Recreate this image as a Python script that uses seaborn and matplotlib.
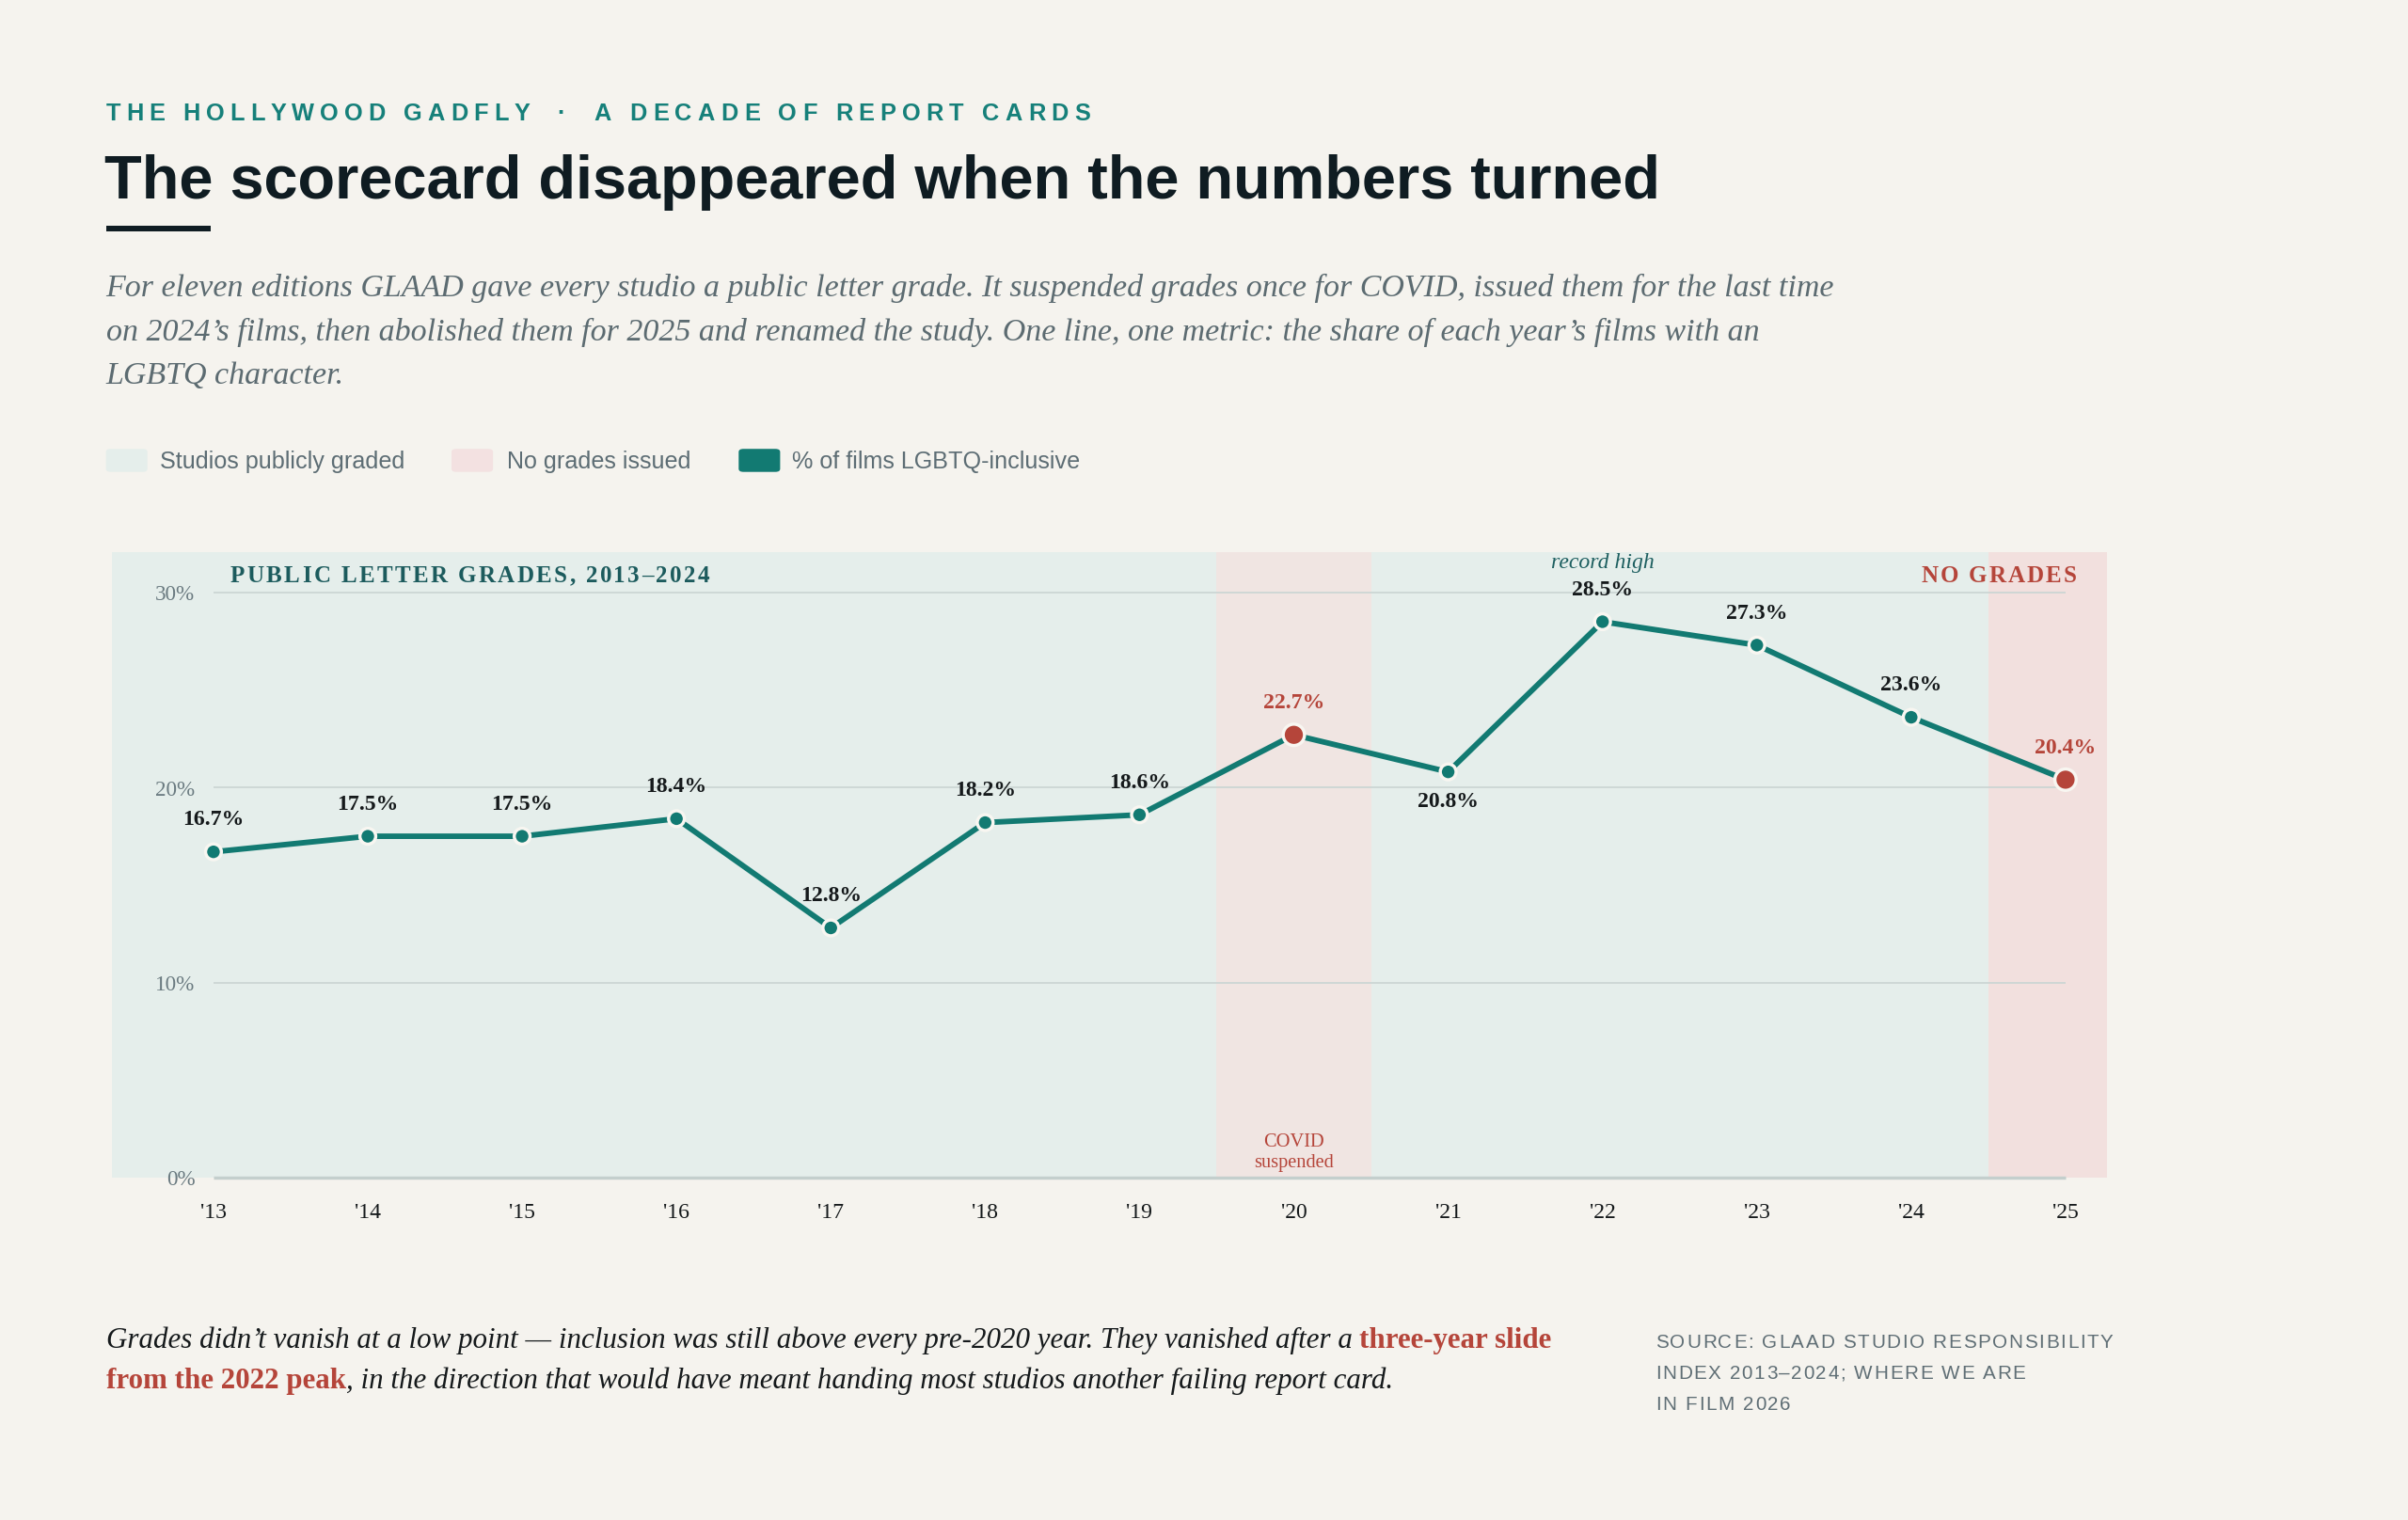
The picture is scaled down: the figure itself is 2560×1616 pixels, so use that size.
import numpy as np
import pandas as pd
import matplotlib
matplotlib.use("Agg")
import matplotlib.pyplot as plt
from matplotlib.patches import Rectangle, FancyBboxPatch
from matplotlib.font_manager import FontProperties, findfont, get_font
from matplotlib.transforms import ScaledTranslation
import seaborn as sns

# ---------------- data ----------------
years = [2013, 2014, 2015, 2016, 2017, 2018, 2019, 2020, 2021, 2022, 2023, 2024, 2025]
pct = [16.7, 17.5, 17.5, 18.4, 12.8, 18.2, 18.6, 22.7, 20.8, 28.5, 27.3, 23.6, 20.4]
status = ["graded"] * 7 + ["none"] + ["graded"] * 4 + ["none"]
year_labels = ["'13", "'14", "'15", "'16", "'17", "'18", "'19", "'20", "'21", "'22", "'23", "'24", "'25"]
ytick_vals = [0, 10, 20, 30]
ytick_labels = ["0%", "10%", "20%", "30%"]
label_side = ["above"] * 8 + ["below"] + ["above"] * 4

kicker_left = "THE HOLLYWOOD GADFLY"
kicker_sep = "\u00b7"
kicker_right = "A DECADE OF REPORT CARDS"
title = "The scorecard disappeared when the numbers turned"
subtitle_lines = [
    "For eleven editions GLAAD gave every studio a public letter grade. It suspended grades once for COVID, issued them for the last time",
    "on 2024\u2019s films, then abolished them for 2025 and renamed the study. One line, one metric: the share of each year\u2019s films with an",
    "LGBTQ character.",
]
legend_labels = ["Studios publicly graded", "No grades issued", "% of films LGBTQ-inclusive"]
graded_header = "PUBLIC LETTER GRADES, 2013\u20132024"
nogrades_header = "NO GRADES"
foot_1a = "Grades didn\u2019t vanish at a low point \u2014 inclusion was still above every pre-2020 year. They vanished after a"
foot_1b = "three-year slide"
foot_2a = "from the 2022 peak"
foot_2b = ", in the direction that would have meant handing most studios another failing report card."
source_lines = ["SOURCE: GLAAD STUDIO RESPONSIBILITY", "INDEX 2013\u20132024; WHERE WE ARE", "IN FILM 2026"]

df = pd.DataFrame({"year": years, "pct": pct, "status": status})

# ---------------- style ----------------
BG = "#f5f3ee"
TEAL = "#127a72"
RED = "#b5453a"
INK = "#0f1c22"
GREY = "#5d6d74"
BAND_T = "#e5eeeb"
BAND_P = "#f0e5e2"
BAND_P2 = "#f2e0de"
GRID = "#ccd6d4"
SANS = ["Liberation Sans", "DejaVu Sans"]
SERIF = ["Liberation Serif", "DejaVu Serif"]

sns.set_theme(style="white")
plt.rcParams["font.family"] = SANS

W, H = 1568.0, 990.0
fig = plt.figure(figsize=(15.68, 9.90), dpi=2560 / 15.68, facecolor=BG)


def put(x, y, s, **kw):
    return fig.text(x / W, 1 - y / H, s, **kw)


def tracked(x, y, s, size, width_px, family, weight="normal", color="k", ha="left",
            transform=None, va="baseline"):
    """Letter-spaced caps: characters laid out with extra tracking so the run spans width_px."""
    fp = FontProperties(family=family, weight=weight, size=size)
    font = get_font(findfont(fp))
    font.set_size(size, 72)
    adv = [font.load_char(ord(c)).linearHoriAdvance / 65536.0 for c in s]  # points
    natural = sum(adv)
    track = (width_px * 0.72 - natural) / max(len(s) - 1, 1)
    total = natural + track * (len(s) - 1)
    pos = 0.0 if ha == "left" else -total
    base = transform if transform is not None else fig.transFigure
    for c, a in zip(s, adv):
        if c != " ":
            tr = base + ScaledTranslation(pos / 72.0, 0, fig.dpi_scale_trans)
            fig.text(x, y, c, fontsize=size, family=family, fontweight=weight, color=color,
                     ha="left", va=va, transform=tr)
        pos += a + track


# ---------------- header ----------------
KC = "#16807a"
tracked(69 / W, 1 - 78.5 / H, kicker_left, 11.2, 276, SANS, weight="bold", color=KC)
put(365.5, 78.5, kicker_sep, fontsize=11.2, fontweight="bold", color=KC, family=SANS, ha="center", va="baseline")
tracked(387 / W, 1 - 78.5 / H, kicker_right, 11.2, 323, SANS, weight="bold", color=KC)
put(68, 129.5, title, fontsize=28.6, fontweight="bold", color=INK, family=SANS, va="baseline")
fig.patches.append(Rectangle((69 / W, 1 - 151 / H), 68 / W, 4 / H, transform=fig.transFigure,
                             facecolor=INK, edgecolor="none"))
for i, line in enumerate(subtitle_lines):
    put(69, 193 + 28.6 * i, line, fontsize=15.0, style="italic", color="#5c6b71", family=SERIF, va="baseline")

# legend
sw = [(69, BAND_T), (294, "#f3e1e1"), (481, TEAL)]
tx = [104, 330, 516]
for (x0, c), t, lab in zip(sw, tx, legend_labels):
    fig.patches.append(FancyBboxPatch((x0 / W, 1 - 307.5 / H), 27 / W, 15 / H,
                                      boxstyle="round,pad=0,rounding_size=0.002",
                                      transform=fig.transFigure, facecolor=c, edgecolor="none"))
    put(t, 305, lab, fontsize=11.1, color=GREY, family=SANS, va="baseline")

# ---------------- chart ----------------
x_left, x_right = 2013 - 66 / 100.5, 2025 + 27 / 100.5
y_top = 30 + 26 / 12.7
ax = fig.add_axes([73 / W, 1 - 767 / H, (1372 - 73) / W, (767 - 360) / H])
ax.set_facecolor(BG)
ax.set_xlim(x_left, x_right)
ax.set_ylim(0, y_top)
for s in ax.spines.values():
    s.set_visible(False)

ax.axvspan(x_left, 2019.5, color=BAND_T, lw=0, zorder=0)
ax.axvspan(2019.5, 2020.5, color=BAND_P, lw=0, zorder=0)
ax.axvspan(2020.5, 2024.5, color=BAND_T, lw=0, zorder=0)
ax.axvspan(2024.5, x_right, color=BAND_P2, lw=0, zorder=0)

ax.hlines(ytick_vals[1:], years[0], years[-1], color=GRID, lw=0.8, zorder=1)
ax.hlines(0, years[0], years[-1], color="#c4cfcd", lw=1.5, zorder=1, clip_on=False)

sns.lineplot(data=df, x="year", y="pct", color=TEAL, lw=2.6, ax=ax, zorder=3)
sns.scatterplot(data=df, x="year", y="pct", hue="status", palette={"graded": TEAL, "none": RED},
                size="status", sizes={"graded": 55, "none": 100}, edgecolor="#f8f6f1", linewidth=1.5,
                legend=False, ax=ax, zorder=4)

for x, y, st, side in zip(years, pct, status, label_side):
    off = 15 if side == "above" else -14
    ax.annotate(f"{y:.1f}%", (x, y), xytext=(0, off), textcoords="offset points",
                ha="center", va="center", fontsize=10.5, fontweight="bold", family=SERIF,
                color=RED if st == "none" else "#15191b", zorder=5)

peak_i = int(np.argmax(pct))
ax.annotate("record high", (years[peak_i], pct[peak_i]), xytext=(0, 27.7), textcoords="offset points",
            ha="center", va="center", fontsize=10.5, style="italic", family=SERIF, color="#1d5f60")

ax.annotate("COVID\nsuspended", (2020, 0), xytext=(0, 11.9), textcoords="offset points",
            ha="center", va="center", fontsize=9, family=SERIF, color=RED, linespacing=1.2)

hdr_y = 30.87
tracked(2013 + 11 / 100.5, hdr_y, graded_header, 11, 312, SERIF, weight="bold", color="#1c5b5d",
        transform=ax.transData, va="center")
tracked(2025 + 7 / 100.5, hdr_y, nogrades_header, 11, 101, SERIF, weight="bold", color=RED,
        ha="right", transform=ax.transData, va="center")

ax.set_xticks(years)
ax.set_xticklabels(year_labels, fontsize=10.5, family=SERIF, color="#15191b")
ax.set_yticks(ytick_vals)
ax.set_yticklabels(ytick_labels, fontsize=10.2, family=SERIF, color="#6a7a80")
ax.tick_params(axis="x", length=0, pad=12)
ax.tick_params(axis="y", length=0, pad=-38.9)
ax.set_xlabel("")
ax.set_ylabel("")
ax.grid(False)

# ---------------- footer ----------------
renderer = fig.canvas.get_renderer()
scale = W / fig.bbox.width


def wpx(t):
    return t.get_window_extent(renderer).width * scale


foot_kw = dict(fontsize=13.7, family=SERIF, va="baseline")
ta = put(0, 0, "x x", style="italic", **foot_kw)
tb = put(0, 0, "xx", style="italic", **foot_kw)
space = wpx(ta) - wpx(tb)
ta.remove(); tb.remove()

t1 = put(69, 877.5, foot_1a, style="italic", color="#15191b", **foot_kw)
put(69 + wpx(t1) + space, 877.5, foot_1b, fontweight="bold", color=RED, **foot_kw)
t2 = put(69, 904, foot_2a, fontweight="bold", color=RED, **foot_kw)
put(69 + wpx(t2), 904, foot_2b, style="italic", color="#15191b", **foot_kw)

src_w = [298, 241, 88]
for i, (line, wd) in enumerate(zip(source_lines, src_w)):
    tracked(1078 / W, 1 - (877.5 + 20.3 * i) / H, line, 9.1, wd, SANS, color="#5f6e75")

fig.savefig("out.png", dpi=fig.dpi, facecolor=BG)
